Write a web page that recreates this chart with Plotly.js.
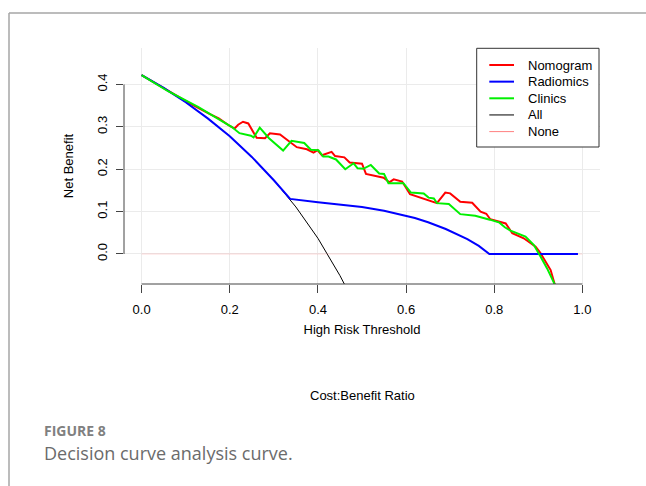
<!DOCTYPE html>
<html>
<head>
<meta charset="utf-8">
<script src="https://cdn.plot.ly/plotly-3.0.1.min.js"></script>
<style>
html,body{margin:0;padding:0;background:#fff;}
#chart{width:646px;height:486px;}
</style>
</head>
<body>
<div id="chart"></div>
<script>
// ---- data (threshold, net benefit) ----
const nomogramT = [0, 0.03, 0.06, 0.11, 0.155, 0.175, 0.2, 0.211, 0.219, 0.23, 0.242, 0.261, 0.28, 0.291, 0.314, 0.331, 0.352, 0.375, 0.39, 0.399, 0.409, 0.431, 0.439, 0.46, 0.472, 0.5, 0.509, 0.549, 0.562, 0.572, 0.591, 0.609, 0.651, 0.67, 0.689, 0.70, 0.723, 0.75, 0.769, 0.782, 0.791, 0.814, 0.826, 0.841, 0.867, 0.894, 0.905, 0.928, 0.945];
const nomogramV = [0.422, 0.404, 0.384, 0.355, 0.330, 0.320, 0.302, 0.296, 0.305, 0.312, 0.308, 0.274, 0.273, 0.285, 0.282, 0.268, 0.252, 0.247, 0.239, 0.245, 0.233, 0.241, 0.231, 0.228, 0.216, 0.213, 0.189, 0.180, 0.169, 0.176, 0.171, 0.141, 0.126, 0.120, 0.145, 0.143, 0.123, 0.121, 0.100, 0.095, 0.082, 0.076, 0.072, 0.049, 0.037, 0.017, 0.002, -0.038, -0.100];

const radiomicsT = [0, 0.05, 0.1, 0.15, 0.2, 0.25, 0.3, 0.337, 0.4, 0.45, 0.5, 0.55, 0.587, 0.62, 0.65, 0.69, 0.739, 0.765, 0.789, 0.99];
const radiomicsV = [0.422, 0.392, 0.358, 0.320, 0.278, 0.229, 0.174, 0.130, 0.122, 0.117, 0.111, 0.102, 0.093, 0.085, 0.075, 0.059, 0.035, 0.019, 0.0, 0.0];

const clinicsT = [0, 0.03, 0.06, 0.128, 0.166, 0.204, 0.222, 0.248, 0.254, 0.268, 0.289, 0.321, 0.340, 0.369, 0.384, 0.401, 0.412, 0.424, 0.441, 0.462, 0.481, 0.490, 0.503, 0.520, 0.539, 0.550, 0.560, 0.594, 0.611, 0.640, 0.651, 0.663, 0.670, 0.697, 0.723, 0.757, 0.790, 0.812, 0.824, 0.837, 0.871, 0.890, 0.905, 0.920, 0.937, 0.945];
const clinicsV = [0.422, 0.404, 0.384, 0.347, 0.324, 0.300, 0.285, 0.279, 0.275, 0.298, 0.273, 0.244, 0.267, 0.262, 0.246, 0.245, 0.230, 0.230, 0.223, 0.200, 0.214, 0.202, 0.201, 0.210, 0.190, 0.189, 0.167, 0.167, 0.145, 0.143, 0.133, 0.131, 0.120, 0.118, 0.094, 0.090, 0.081, 0.074, 0.063, 0.055, 0.041, 0.021, -0.006, -0.034, -0.071, -0.100];

const allT = [0, 0.05, 0.1, 0.15, 0.2, 0.25, 0.3, 0.35, 0.4, 0.45, 0.47];
const allV = [0.422, 0.392, 0.358, 0.320, 0.278, 0.229, 0.174, 0.111, 0.037, -0.051, -0.091];

const noneT = [0, 1];
const noneV = [0, 0];

const seriesNames = ['Nomogram', 'Radiomics', 'Clinics', 'All', 'None'];

const xTicks = [0, 0.2, 0.4, 0.6, 0.8, 1.0];
const xTickText = ["0.0", "0.2", "0.4", "0.6", "0.8", "1.0"];
const yTicks = [0, 0.1, 0.2, 0.3, 0.4];
const yTickText = ["0.0", "0.1", "0.2", "0.3", "0.4"];

// ---- styling ----
const FONT = 'Liberation Sans, Arial, sans-serif';
const seriesStyle = {
  Nomogram:  {color: '#ff0000', width: 2},
  Radiomics: {color: '#0000ff', width: 2},
  Clinics:   {color: '#00f000', width: 2},
  All:       {color: '#000000', width: 1},
  None:      {color: '#ff8080', width: 1}
};

const traces = [
  {x: allT, y: allV, name: 'All', mode: 'lines', line: seriesStyle.All},
  {x: noneT, y: noneV, name: 'None', mode: 'lines', line: seriesStyle.None, opacity: 0.3},
  {x: nomogramT, y: nomogramV, name: 'Nomogram', mode: 'lines', line: seriesStyle.Nomogram},
  {x: radiomicsT, y: radiomicsV, name: 'Radiomics', mode: 'lines', line: seriesStyle.Radiomics},
  {x: clinicsT, y: clinicsV, name: 'Clinics', mode: 'lines', line: seriesStyle.Clinics}
];

// plot area in pixels: left 124, right 600, top 48, bottom 284
const PL = 124, PW = 476, PB = 284, PH = 236;
const px2x = p => (p - PL) / PW;
const px2y = p => (PB - p) / PH;

const shapes = [
  // R-style axis lines spanning only the tick range
  {type: 'line', xref: 'x', yref: 'paper', x0: xTicks[0], x1: xTicks[xTicks.length-1], y0: 0, y1: 0, line: {color: '#444', width: 1}},
  {type: 'line', xref: 'paper', yref: 'y', x0: 0, x1: 0, y0: yTicks[0], y1: yTicks[yTicks.length-1], line: {color: '#444', width: 1}},
  // page frame lines
  {type: 'line', xref: 'paper', yref: 'paper', x0: px2x(9), x1: px2x(660), y0: px2y(13), y1: px2y(13), line: {color: '#a6a6a6', width: 1.5}},
  {type: 'line', xref: 'paper', yref: 'paper', x0: px2x(9), x1: px2x(9), y0: px2y(13), y1: px2y(500), line: {color: '#a6a6a6', width: 1.5}},
  // legend box
  {type: 'rect', xref: 'paper', yref: 'paper', x0: px2x(476.7), x1: px2x(599), y0: px2y(147), y1: px2y(48.3), line: {color: '#333', width: 1}, fillcolor: '#ffffff'}
];

const annotations = [
  {text: 'Cost:Benefit Ratio', xref: 'paper', yref: 'paper', x: 0.5, y: px2y(395), xanchor: 'center', yanchor: 'middle', showarrow: false, font: {family: FONT, size: 13, color: '#000'}},
  {text: '<b>FIGURE 8</b>', xref: 'paper', yref: 'paper', x: px2x(42), y: px2y(430), xanchor: 'left', yanchor: 'middle', showarrow: false, font: {family: 'Open Sans, sans-serif', size: 14, color: '#808080'}},
  {text: 'Decision curve analysis curve.', xref: 'paper', yref: 'paper', x: px2x(42), y: px2y(453), xanchor: 'left', yanchor: 'middle', showarrow: false, font: {family: 'Open Sans, sans-serif', size: 18, color: '#6b6b6b'}}
];

// legend entries (R-style legend box)
seriesNames.forEach((name, i) => {
  const rowY = 65 + i * 16.65;
  const st = seriesStyle[name];
  shapes.push({type: 'line', xref: 'paper', yref: 'paper', x0: px2x(489.3), x1: px2x(514), y0: px2y(rowY), y1: px2y(rowY), line: {color: st.color, width: st.width}});
  annotations.push({text: name, xref: 'paper', yref: 'paper', x: px2x(526), y: px2y(rowY), xanchor: 'left', yanchor: 'middle', showarrow: false, font: {family: FONT, size: 13, color: '#000'}});
});

const layout = {
  width: 646, height: 486,
  margin: {l: 124, r: 46, t: 48, b: 202},
  paper_bgcolor: '#ffffff', plot_bgcolor: '#ffffff',
  font: {family: FONT, size: 13, color: '#000'},
  showlegend: false,
  xaxis: {
    range: [-0.04, 1.04], tickvals: xTicks, ticktext: xTickText,
    showgrid: true, gridcolor: '#ebebeb', gridwidth: 1,
    zeroline: false, showline: false,
    ticks: 'outside', ticklen: 8, tickcolor: '#444', tickwidth: 1,
    ticklabelstandoff: 5,
    tickfont: {family: FONT, size: 13, color: '#000'},
    title: {text: 'High Risk Threshold', font: {family: FONT, size: 13, color: '#000'}, standoff: 9}
  },
  yaxis: {
    range: [-0.0708, 0.486], tickvals: yTicks, ticktext: yTickText,
    showgrid: true, gridcolor: '#ebebeb', gridwidth: 1,
    zeroline: false, showline: false,
    ticks: 'outside', ticklen: 7, tickcolor: '#444', tickwidth: 1,
    tickangle: -90,
    ticklabelstandoff: 4,
    tickfont: {family: FONT, size: 13, color: '#000'},
    title: {text: 'Net Benefit', font: {family: FONT, size: 13, color: '#000'}, standoff: 18}
  },
  shapes: shapes,
  annotations: annotations
};

Plotly.newPlot('chart', traces, layout, {displayModeBar: false, staticPlot: true});
</script>
</body>
</html>
